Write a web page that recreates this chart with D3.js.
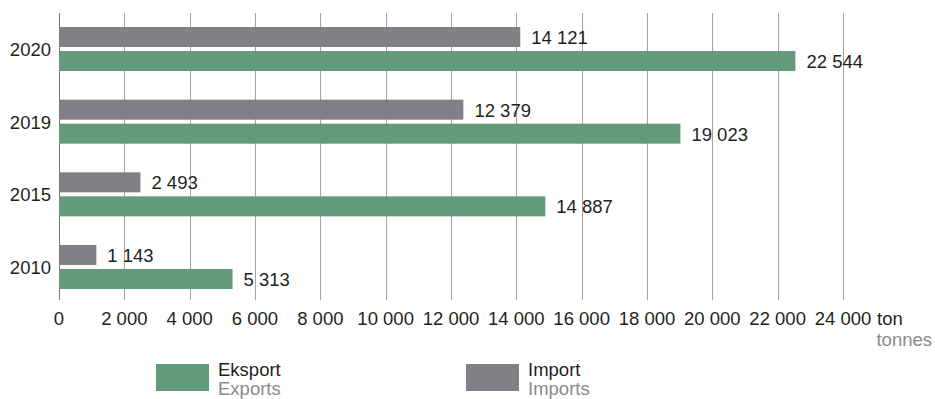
<!DOCTYPE html>
<html lang="no">
<head>
<meta charset="utf-8">
<title>Eksport og import</title>
<script src="https://cdn.jsdelivr.net/npm/d3@7"></script>
<style>
  body { margin: 0; background: #fff; }
  svg { display: block; font-family: "Liberation Sans", Arial, Helvetica, sans-serif; }
  .lbl { font-size: 18.5px; fill: #231f20; }
  .sub { font-size: 18.5px; fill: #8a8a8a; }
</style>
</head>
<body>
<div id="chart"></div>
<script>
// data
var years = ["2020", "2019", "2015", "2010"];
var imports = [14121, 12379, 2493, 1143];
var exports = [22544, 19023, 14887, 5313];
var xTicks = [0, 2000, 4000, 6000, 8000, 10000, 12000, 14000, 16000, 18000, 20000, 22000, 24000];

var width = 935, height = 399;
var green = "#639b7a", grey = "#818185";

var nb = d3.formatLocale({ decimal: ",", thousands: " ", grouping: [3], currency: ["", ""] });
var fmt = nb.format(",");

var svg = d3.select("#chart").append("svg")
  .attr("width", width)
  .attr("height", height);

var x = d3.scaleLinear().domain([0, 24000]).range([59, 843]);

var y0 = d3.scaleBand()
  .domain(years)
  .range([27, 289])
  .paddingInner(0.394)
  .paddingOuter(0);

var y1 = d3.scaleBand()
  .domain(["import", "export"])
  .range([0, y0.bandwidth()])
  .paddingInner(0.1667);

// gridlines
svg.append("g")
  .selectAll("line")
  .data(xTicks)
  .enter().append("line")
    .attr("x1", function(d) { return Math.round(x(d)) + 0.5; })
    .attr("x2", function(d) { return Math.round(x(d)) + 0.5; })
    .attr("y1", 13)
    .attr("y2", 300)
    .attr("stroke", function(d) { return d === 0 ? "#777" : "#a3a3a3"; });

// tick labels
svg.append("g")
  .selectAll("text")
  .data(xTicks)
  .enter().append("text")
    .attr("class", "lbl")
    .attr("x", function(d) { return x(d); })
    .attr("y", 325)
    .attr("text-anchor", "middle")
    .text(fmt);

svg.append("text").attr("class", "lbl")
  .attr("x", 877).attr("y", 325).text("ton");
svg.append("text").attr("class", "sub")
  .attr("x", 932).attr("y", 346).attr("text-anchor", "end").text("tonnes");

var rows = years.map(function(yr, i) {
  return { year: yr, vals: [{ k: "import", v: imports[i] }, { k: "export", v: exports[i] }] };
});

var g = svg.selectAll(".yr")
  .data(rows)
  .enter().append("g")
    .attr("class", "yr")
    .attr("transform", function(d) { return "translate(0," + y0(d.year) + ")"; });

g.append("text")
  .attr("class", "lbl")
  .attr("x", 51)
  .attr("y", y0.bandwidth() / 2 + 7)
  .attr("text-anchor", "end")
  .text(function(d) { return d.year; });

g.selectAll("rect")
  .data(function(d) { return d.vals; })
  .enter().append("rect")
    .attr("x", x(0))
    .attr("y", function(d) { return y1(d.k); })
    .attr("width", function(d) { return x(d.v) - x(0); })
    .attr("height", y1.bandwidth())
    .attr("fill", function(d) { return d.k === "import" ? grey : green; });

g.selectAll(".val")
  .data(function(d) { return d.vals; })
  .enter().append("text")
    .attr("class", "lbl val")
    .attr("x", function(d) { return x(d.v) + 11; })
    .attr("y", function(d) { return y1(d.k) + y1.bandwidth() / 2 + 7; })
    .text(function(d) { return fmt(d.v); });

// legend
var legend = [
  { no: "Eksport", en: "Exports", c: green, x: 156 },
  { no: "Import", en: "Imports", c: grey, x: 466 }
];
var lg = svg.selectAll(".lg")
  .data(legend)
  .enter().append("g")
    .attr("transform", function(d) { return "translate(" + d.x + ",364)"; });
lg.append("rect").attr("width", 53).attr("height", 27).attr("fill", function(d) { return d.c; });
lg.append("text").attr("class", "lbl").attr("x", 62).attr("y", 12).text(function(d) { return d.no; });
lg.append("text").attr("class", "sub").attr("x", 62).attr("y", 31).text(function(d) { return d.en; });
</script>
</body>
</html>
